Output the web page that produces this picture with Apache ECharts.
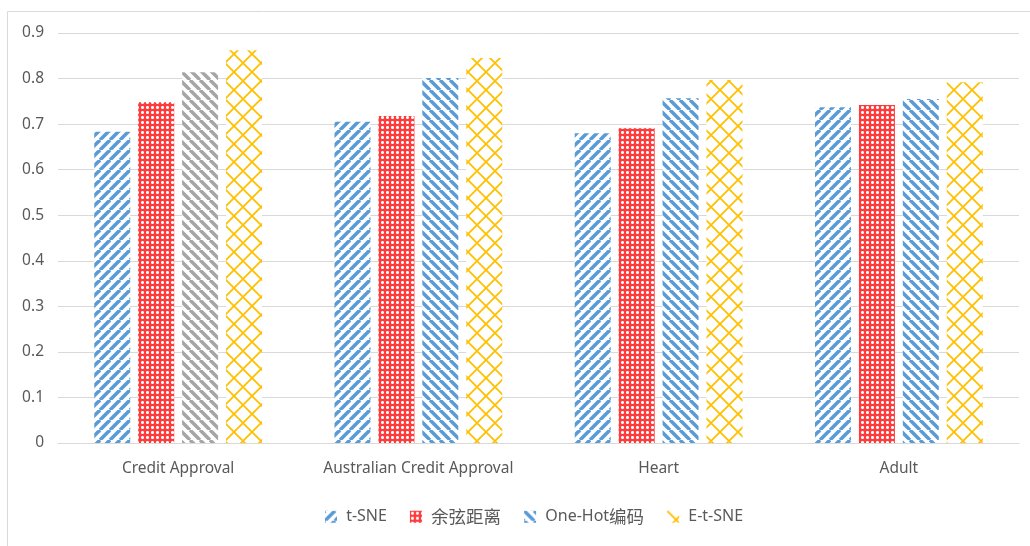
<!DOCTYPE html>
<html><head><meta charset="utf-8">
<script src="https://cdn.jsdelivr.net/npm/echarts@6/dist/echarts.min.js"></script>
<style>html,body{margin:0;padding:0;background:#fff}#c{width:1030px;height:546px}</style>
</head><body><div id="c"></div>
<script>
const categories = ['Credit Approval','Australian Credit Approval','Heart','Adult'];
const seriesNames = ['t-SNE','余弦距离','One-Hot编码','E-t-SNE'];
const tsne = [0.683, 0.705, 0.680, 0.737];
const cosine = [0.748, 0.718, 0.691, 0.742];
const onehot = [0.814, 0.801, 0.757, 0.755];
const etsne = [0.862, 0.845, 0.797, 0.792];
const yTicks = [0,0.1,0.2,0.3,0.4,0.5,0.6,0.7,0.8,0.9];

function mk(w,h,draw){const c=document.createElement('canvas');c.width=w;c.height=h;const g=c.getContext('2d');g.fillStyle='#fff';g.fillRect(0,0,w,h);draw(g,w,h);return {image:c,repeat:'repeat'};}
function stripes(color,up){return mk(10,10,(g,s)=>{g.strokeStyle=color;g.lineWidth=3.5;for(const k of [-s,0,s]){g.beginPath();if(up){g.moveTo(k,s);g.lineTo(k+s,0);}else{g.moveTo(k,0);g.lineTo(k+s,s);}g.stroke();}});}
function cross(color){return mk(5,5,(g)=>{g.fillStyle=color;g.fillRect(0,0,5,5);g.fillStyle='#fff';g.fillRect(1,2,3,1);g.fillRect(2,1,1,3);g.fillStyle='rgba(255,255,255,0.6)';g.fillRect(1,1,1,1);g.fillRect(3,1,1,1);g.fillRect(1,3,1,1);g.fillRect(3,3,1,1);});}
function diamonds(color){return mk(18,18,(g,s)=>{g.strokeStyle=color;g.lineWidth=1.8;g.beginPath();g.moveTo(0,0);g.lineTo(s,s);g.moveTo(0,s);g.lineTo(s,0);g.stroke();});}

const pBlueUp = stripes('#5b9bd5',true);
const pBlueDown = stripes('#5b9bd5',false);
const pGray = stripes('#a5a5a5',false);
const pRed = cross('#ff3b3b');
const pYellow = diamonds('#ffc000');

const font = "'Noto Sans','Noto Sans CJK SC',sans-serif";
const chart = echarts.init(document.getElementById('c'),null,{renderer:'canvas'});
chart.setOption({
  animation:false,
  backgroundColor:'#fff',
  graphic:[{type:'rect',shape:{x:7.5,y:11.5,width:1040,height:560},style:{fill:'none',stroke:'#d9d9d9',lineWidth:1},silent:true,z:-1}],
  grid:{left:58,right:11,top:33,bottom:103},
  legend:{top:503,left:320,itemWidth:12,itemHeight:12,itemGap:23,
    formatter:n=>' '+n.replace(/([\u4e00-\u9fff]+)/g,'{c|$1}'),
    textStyle:{fontFamily:font,fontSize:16,color:'#595959',
      rich:{c:{fontFamily:"'Noto Sans CJK SC',sans-serif",fontSize:17.5,color:'#595959'}}},
    data:seriesNames.map(n=>({name:n,icon:'rect'}))},
  xAxis:{type:'category',data:categories,
    axisLine:{lineStyle:{color:'#d9d9d9',width:1}},axisTick:{show:false},
    axisLabel:{interval:0,color:'#595959',fontFamily:font,fontSize:15.5,margin:18}},
  yAxis:{type:'value',min:0,max:0.9,interval:0.1,
    axisLine:{show:false},axisTick:{show:false},
    splitLine:{lineStyle:{color:'#d9d9d9',width:1}},
    axisLabel:{color:'#595959',fontFamily:font,fontSize:15.5,margin:14,
      formatter:v=>{const t=yTicks.find(x=>Math.abs(x-v)<1e-6);return t===0?'0':(t!==undefined?t.toFixed(1):'');}}},
  series:[
    {name:seriesNames[0],type:'bar',data:tsne,barWidth:36,barGap:'22%',itemStyle:{color:pBlueUp}},
    {name:seriesNames[1],type:'bar',data:cosine,barWidth:36,barGap:'22%',itemStyle:{color:pRed}},
    {name:seriesNames[2],type:'bar',barWidth:36,barGap:'22%',itemStyle:{color:pBlueDown},
      data:onehot.map((v,i)=>i===0?{value:v,itemStyle:{color:pGray}}:v)},
    {name:seriesNames[3],type:'bar',data:etsne,barWidth:36,barGap:'22%',itemStyle:{color:pYellow}}
  ]
});
</script></body></html>
